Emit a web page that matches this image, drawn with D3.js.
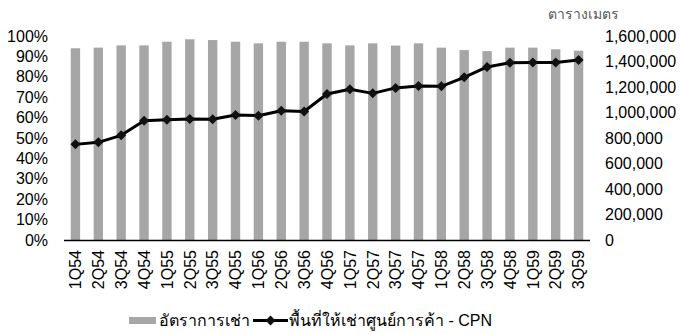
<!DOCTYPE html>
<html>
<head>
<meta charset="utf-8">
<script src="https://cdn.jsdelivr.net/npm/d3@7"></script>
<style>
  html, body { margin: 0; padding: 0; background: #fff; }
  svg { display: block; font-family: "Liberation Sans", Arial, "Noto Sans", sans-serif; }
</style>
</head>
<body>
<svg id="chart" width="681" height="334"></svg>
<script>
// Quarterly data (Thai fiscal years 2554–2559)
const quarters = ["1Q54","2Q54","3Q54","4Q54","1Q55","2Q55","3Q55","4Q55",
  "1Q56","2Q56","3Q56","4Q56","1Q57","2Q57","3Q57","4Q57",
  "1Q58","2Q58","3Q58","4Q58","1Q59","2Q59","3Q59"];

// Occupancy rate (%)
const occupancy = [94.0, 94.3, 95.4, 95.4, 97.2, 98.4, 98.0, 97.2,
  96.4, 97.2, 97.2, 96.4, 95.4, 96.4, 95.3, 96.4,
  94.3, 93.1, 92.6, 94.3, 94.3, 93.5, 92.8];

// Leasable area of CPN shopping centres (sq. m.)
const leasableArea = [750000, 766000, 821000, 936000, 944000, 949000, 947000, 980000,
  975000, 1014000, 1008000, 1145000, 1182000, 1150000, 1193000, 1207000,
  1205000, 1276000, 1357000, 1391000, 1393000, 1393000, 1412000];

const leftTicks = [0, 10, 20, 30, 40, 50, 60, 70, 80, 90, 100];
const rightTicks = [0, 200000, 400000, 600000, 800000, 1000000, 1200000, 1400000, 1600000];

const legendLabels = ["อัตราการเช่า", "พื้นที่ให้เช่าศูนย์การค้า - CPN"];
const unitLabel = "ตารางเมตร";

const svg = d3.select("#chart");
const plot = { left: 64, right: 590, top: 36, bottom: 240 };

const x = d3.scaleBand()
  .domain(quarters)
  .range([plot.left, plot.right])
  .paddingInner(0.59)
  .paddingOuter(0.295);

const yLeft = d3.scaleLinear().domain([0, 100]).range([plot.bottom, plot.top]);
const yRight = d3.scaleLinear().domain([0, 1600000]).range([plot.bottom, plot.top]);

const fmt = d3.format(",");

// Bars: occupancy rate
svg.append("g")
  .selectAll("rect")
  .data(occupancy)
  .join("rect")
  .attr("x", (d, i) => x(quarters[i]))
  .attr("y", d => yLeft(d))
  .attr("width", x.bandwidth())
  .attr("height", d => plot.bottom - yLeft(d))
  .attr("fill", "#a6a6a6");

// Left axis (percent)
const leftAxis = d3.axisLeft(yLeft)
  .tickValues(leftTicks)
  .tickFormat(d => d + "%")
  .tickSize(0)
  .tickPadding(0);
const gl = svg.append("g")
  .attr("transform", `translate(48,0)`)
  .call(leftAxis);
gl.select(".domain").remove();
gl.selectAll("text").attr("font-size", 16).attr("fill", "#000")
  .attr("font-family", '"Liberation Sans", Arial, sans-serif');

// Right axis (square metres)
const rightAxis = d3.axisRight(yRight)
  .tickValues(rightTicks)
  .tickFormat(fmt)
  .tickSize(0)
  .tickPadding(0);
const gr = svg.append("g")
  .attr("transform", `translate(605,0)`)
  .call(rightAxis);
gr.select(".domain").remove();
gr.selectAll("text").attr("font-size", 16).attr("fill", "#000")
  .attr("font-family", '"Liberation Sans", Arial, sans-serif');

// Bottom axis with rotated quarter labels
const bottomAxis = d3.axisBottom(x).tickSize(0).tickPadding(0);
const gb = svg.append("g")
  .attr("transform", `translate(0,${plot.bottom})`)
  .call(bottomAxis);
gb.select(".domain")
  .attr("d", `M${plot.left},0.5H${plot.right}`)
  .attr("stroke", "#000")
  .attr("stroke-width", 1.5);
gb.selectAll("text")
  .attr("font-size", 16)
  .attr("fill", "#000")
  .attr("font-family", '"Liberation Sans", Arial, sans-serif')
  .attr("text-anchor", "end")
  .attr("transform", "translate(0,10) rotate(-90)")
  .attr("x", 0)
  .attr("y", 0)
  .attr("dy", "0.36em");

// Line: leasable area
const line = d3.line()
  .x((d, i) => x(quarters[i]) + x.bandwidth() / 2)
  .y(d => yRight(d));

svg.append("path")
  .datum(leasableArea)
  .attr("d", line)
  .attr("fill", "none")
  .attr("stroke", "#000")
  .attr("stroke-width", 3)
  .attr("stroke-linejoin", "round");

const diamond = d3.symbol().type(d3.symbolSquare).size(50);
svg.append("g")
  .selectAll("path")
  .data(leasableArea)
  .join("path")
  .attr("d", diamond)
  .attr("transform", (d, i) =>
    `translate(${x(quarters[i]) + x.bandwidth() / 2},${yRight(d)}) rotate(45)`)
  .attr("fill", "#111");

// Unit label above right axis
svg.append("text")
  .attr("x", 583)
  .attr("y", 19)
  .attr("text-anchor", "middle")
  .attr("font-size", 14)
  .attr("fill", "#595959")
  .text(unitLabel);

// Legend
const legend = svg.append("g");
legend.append("rect")
  .attr("x", 129).attr("y", 317)
  .attr("width", 27).attr("height", 7)
  .attr("fill", "#a6a6a6");
const t1 = legend.append("text")
  .attr("x", 159).attr("y", 326)
  .attr("font-size", 16)
  .attr("fill", "#000")
  .text(legendLabels[0]);
// keep the line sample clear of the first label
const lineStart = Math.max(252, 159 + t1.node().getComputedTextLength() + 3);
legend.append("line")
  .attr("x1", lineStart).attr("x2", lineStart + 35)
  .attr("y1", 320.5).attr("y2", 320.5)
  .attr("stroke", "#000").attr("stroke-width", 3);
legend.append("path")
  .attr("d", diamond)
  .attr("transform", `translate(${lineStart + 17.5},320.5) rotate(45)`)
  .attr("fill", "#111");
legend.append("text")
  .attr("x", lineStart + 36).attr("y", 326)
  .attr("font-size", 16)
  .attr("fill", "#000")
  .text(legendLabels[1]);
</script>
</body>
</html>
